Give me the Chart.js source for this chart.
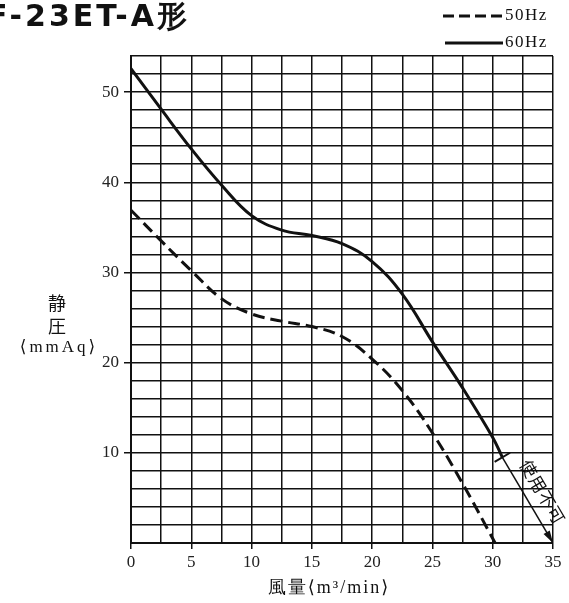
<!DOCTYPE html>
<html>
<head>
<meta charset="utf-8">
<script src="https://cdn.jsdelivr.net/npm/chart.js@4"></script>
<style>
  html, body { margin: 0; padding: 0; background: #fff; }
  #wrap { width: 569px; height: 603px; position: relative; }
</style>
</head>
<body>
<div id="wrap"><canvas id="fanChart" width="569" height="603"></canvas></div>
<script>
// 風量 (m3/min) と 静圧 (mmAq) の読み取り値
const flow60 = [0, 2.5, 5, 7.5, 10, 12.5, 15, 17.5, 20, 22.5, 25, 27.5, 30, 30.8];
const pres60 = [52.6, 48.1, 43.7, 39.7, 36.3, 34.7, 34.1, 33.2, 31.2, 27.6, 22.3, 17.2, 11.7, 9.5];
const flow50 = [0, 2.5, 5, 7.5, 10, 12.5, 15, 17.5, 20, 22.5, 25, 27.5, 30.2];
const pres50 = [36.9, 33.5, 30.2, 27.1, 25.4, 24.6, 24.0, 22.9, 20.4, 16.9, 12.2, 6.6, 0];
// 使用不可の範囲 (細線の矢印)
const flowNg = [30.8, 35];
const presNg = [9.5, 0];

const xTickLabels = [0, 5, 10, 15, 20, 25, 30, 35];
const yTickLabels = [10, 20, 30, 40, 50];

const titleText = 'F-23ET-A形';
const legendLabels = ['50Hz', '60Hz'];
const yTitleLines = ['静', '圧', '⟨mmAq⟩'];
const xTitleText = '風量⟨m³/min⟩';
const ngText = '使用不可';

const toPoints = (xs, ys) => xs.map((x, i) => ({ x: x, y: ys[i] }));
const serif = '"Liberation Serif", "DejaVu Serif", serif';
const ink = '#111';

// タイトル・凡例・軸名・矢印を描くプラグイン
const decorPlugin = {
  id: 'decor',
  afterDraw(chart) {
    const c = chart.ctx;
    const xs = chart.scales.x, ys = chart.scales.y;
    c.save();
    c.fillStyle = ink;
    c.strokeStyle = ink;

    // タイトル (左端は切れている)
    c.font = 'bold 30px "DejaVu Sans", sans-serif';
    c.letterSpacing = '3px';
    c.textBaseline = 'middle';
    c.textAlign = 'left';
    const tw = c.measureText(titleText).width;
    c.fillText(titleText, 190 - tw, 18);
    c.letterSpacing = '0px';

    // 凡例
    c.font = '17px ' + serif;
    c.letterSpacing = '1.5px';
    c.lineWidth = 3;
    c.setLineDash([11, 5]);
    c.beginPath(); c.moveTo(443, 16); c.lineTo(503, 16); c.stroke();
    c.setLineDash([]);
    c.beginPath(); c.moveTo(445, 43); c.lineTo(503, 43); c.stroke();
    c.fillText(legendLabels[0], 505, 16);
    c.fillText(legendLabels[1], 505, 43);
    c.letterSpacing = '0px';

    // 縦軸名
    c.textAlign = 'center';
    c.font = '18px "Noto Sans CJK JP", sans-serif';
    c.fillText(yTitleLines[0], 57, 303);
    c.fillText(yTitleLines[1], 57, 326);
    c.font = '17px ' + serif;
    c.letterSpacing = '3px';
    c.fillText(yTitleLines[2], 59, 348);
    c.letterSpacing = '0px';

    // 横軸名
    c.font = '18px ' + serif;
    c.letterSpacing = '2px';
    c.fillText(xTitleText, 329, 588);
    c.letterSpacing = '0px';

    // 使用不可: 矢印と十字
    const x0 = xs.getPixelForValue(flowNg[0]), y0 = ys.getPixelForValue(presNg[0]);
    const x1 = xs.getPixelForValue(flowNg[1]), y1 = ys.getPixelForValue(presNg[1]);
    const ang = Math.atan2(y1 - y0, x1 - x0);
    c.lineWidth = 1.5;
    c.beginPath();
    c.moveTo(x1, y1);
    c.lineTo(x1 - 13 * Math.cos(ang - 0.28), y1 - 13 * Math.sin(ang - 0.28));
    c.lineTo(x1 - 13 * Math.cos(ang + 0.28), y1 - 13 * Math.sin(ang + 0.28));
    c.closePath();
    c.fill();
    const px = -Math.sin(ang), py = Math.cos(ang);
    c.lineWidth = 2;
    c.beginPath();
    c.moveTo(x0 - 9 * px, y0 - 9 * py);
    c.lineTo(x0 + 9 * px, y0 + 9 * py);
    c.stroke();

    c.translate((x0 + x1) / 2 + 15, (y0 + y1) / 2 - 8);
    c.rotate(ang);
    c.font = '17px "Noto Sans CJK JP", sans-serif';
    c.letterSpacing = '1px';
    c.fillText(ngText, 0, 0);
    c.restore();
  }
};

new Chart(document.getElementById('fanChart'), {
  type: 'line',
  data: {
    datasets: [
      {
        label: legendLabels[1],
        data: toPoints(flow60, pres60),
        borderColor: ink,
        borderWidth: 3,
        pointRadius: 0,
        tension: 0.4,
        fill: false
      },
      {
        label: legendLabels[0],
        data: toPoints(flow50, pres50),
        borderColor: ink,
        borderWidth: 3,
        borderDash: [12, 6],
        pointRadius: 0,
        tension: 0.4,
        fill: false
      },
      {
        label: ngText,
        data: toPoints(flowNg, presNg),
        borderColor: ink,
        borderWidth: 1.5,
        pointRadius: 0,
        tension: 0,
        fill: false
      }
    ]
  },
  options: {
    responsive: false,
    animation: false,
    layout: { padding: { top: 56, right: 16, left: 0, bottom: 0 } },
    plugins: { legend: { display: false }, tooltip: { enabled: false } },
    scales: {
      x: {
        type: 'linear',
        min: 0,
        max: 35,
        afterFit: s => { s.height = 60; },
        ticks: {
          stepSize: 2.5,
          autoSkip: false,
          maxRotation: 0,
          padding: 3,
          color: '#222',
          font: { family: serif, size: 17 },
          callback: v => xTickLabels.includes(v) ? String(v) : ''
        },
        grid: {
          color: ink,
          lineWidth: 1.5,
          tickLength: 6,
          tickColor: ctx => xTickLabels.includes(ctx.tick.value) ? ink : 'rgba(0,0,0,0)'
        },
        border: { color: ink, width: 2 }
      },
      y: {
        type: 'linear',
        min: 0,
        max: 54,
        afterFit: s => { s.width = 131; },
        ticks: {
          stepSize: 2,
          autoSkip: false,
          padding: 5,
          color: '#222',
          font: { family: serif, size: 17 },
          callback: v => yTickLabels.includes(v) ? String(v) : ''
        },
        grid: {
          color: ink,
          lineWidth: 1.5,
          tickLength: 7,
          tickColor: ctx => yTickLabels.includes(ctx.tick.value) ? ink : 'rgba(0,0,0,0)'
        },
        border: { color: ink, width: 2 }
      }
    }
  },
  plugins: [decorPlugin]
});
</script>
</body>
</html>
